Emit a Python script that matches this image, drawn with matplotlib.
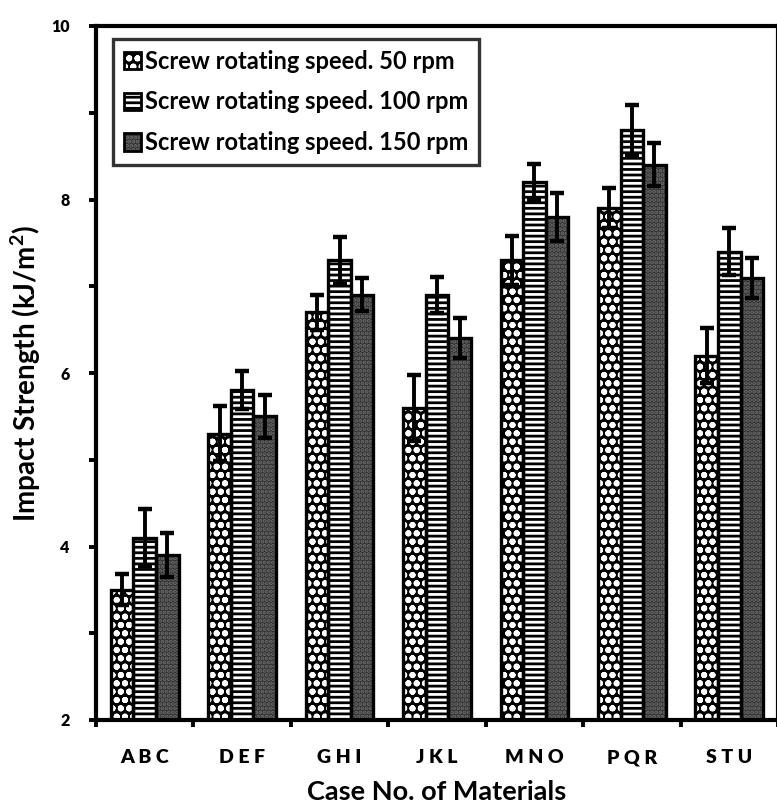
import matplotlib
matplotlib.use("Agg")
import matplotlib.pyplot as plt
import numpy as np
from matplotlib.patches import Patch
from matplotlib.legend_handler import HandlerTuple

groups = ["A B C", "D E F", "G H I", "J K L", "M N O", "P Q R", "S T U"]
series_labels = ["Screw rotating speed. 50 rpm",
                 "Screw rotating speed. 100 rpm",
                 "Screw rotating speed. 150 rpm"]
rpm50 = [3.5, 5.3, 6.7, 5.6, 7.3, 7.9, 6.2]
rpm100 = [4.1, 5.8, 7.3, 6.9, 8.2, 8.8, 7.4]
rpm150 = [3.9, 5.5, 6.9, 6.4, 7.8, 8.4, 7.1]
err50 = [0.18, 0.32, 0.20, 0.38, 0.28, 0.23, 0.32]
err100 = [0.33, 0.22, 0.27, 0.21, 0.21, 0.29, 0.27]
err150 = [0.25, 0.25, 0.19, 0.23, 0.28, 0.25, 0.23]

plt.rcParams['font.family'] = ['Lato', 'DejaVu Sans']
plt.rcParams['hatch.linewidth'] = 2.0

fig = plt.figure(figsize=(7.77, 8.07), dpi=100)
ax = fig.add_axes([96/777, 1-720/807, 682/777, (720-26)/807])

x = np.arange(len(groups)) + 0.5
w = 0.232
styles = [
    dict(face='black', hatch='oo', hcol='white'),
    dict(face='white', hatch='---', hcol='black'),
    dict(face='#2e2e2e', hatch='....', hcol='#6e6e6e'),
]
data = [rpm50, rpm100, rpm150]
errs = [err50, err100, err150]
handles = []
for i, (vals, e, st) in enumerate(zip(data, errs, styles)):
    xi = x + (i - 1) * w
    heights = np.array(vals) - 2
    ax.bar(xi, heights, w, bottom=2, color=st['face'], edgecolor=st['hcol'],
           hatch=st['hatch'], linewidth=0, zorder=2)
    ax.bar(xi, heights, w, bottom=2, fill=False, edgecolor='black',
           linewidth=2.4, zorder=3)
    ax.errorbar(xi, vals, yerr=e, fmt='none', ecolor='black', elinewidth=2.8,
                capsize=5, capthick=3.2, zorder=4)
    handles.append((Patch(facecolor=st['face'], edgecolor=st['hcol'],
                          hatch=st['hatch'], linewidth=0),
                    Patch(fill=False, edgecolor='black', linewidth=2.0)))

ax.set_xlim(0, 7)
ax.set_ylim(2, 10)
ax.set_yticks([2, 4, 6, 8, 10])
ax.set_yticks([3, 5, 7, 9], minor=True)
ax.set_xticks(np.arange(0, 8))
ax.set_xticklabels([])
ax.set_xticks(x, minor=True)
ax.set_xticklabels(groups, minor=True, fontsize=14, fontweight='heavy')
ax.tick_params(axis='x', which='minor', length=0, pad=21)
ax.tick_params(axis='x', which='major', length=5, width=2.8, direction='out')
ax.tick_params(axis='y', which='both', length=5, width=2.8, direction='out',
               labelsize=11.5, pad=14)
for lab in ax.get_yticklabels():
    lab.set_fontweight('heavy')
for lab in ax.get_xticklabels(minor=True):
    lab.set_fontweight('heavy')
for s in ax.spines.values():
    s.set_linewidth(3.0)

ax.set_ylabel("Impact Strength (kJ/m$^\\mathregular{2}$)", fontsize=20,
              fontweight='bold', labelpad=6)
ax.set_xlabel("Case No. of Materials", fontsize=19.5, fontweight='bold', labelpad=10)

leg = ax.legend(handles, series_labels, loc='upper left',
                bbox_to_anchor=(0.018, 0.988), frameon=True,
                handler_map={tuple: HandlerTuple(ndivide=1, pad=0)},
                fancybox=False, edgecolor='black', handlelength=0.75,
                handleheight=0.75, handletextpad=0.15, labelspacing=0.75,
                borderpad=0.45, borderaxespad=0.2,
                prop={'weight': 'bold', 'size': 17})
leg.get_frame().set_linewidth(2.4)

fig.savefig("out.png", dpi=100)
